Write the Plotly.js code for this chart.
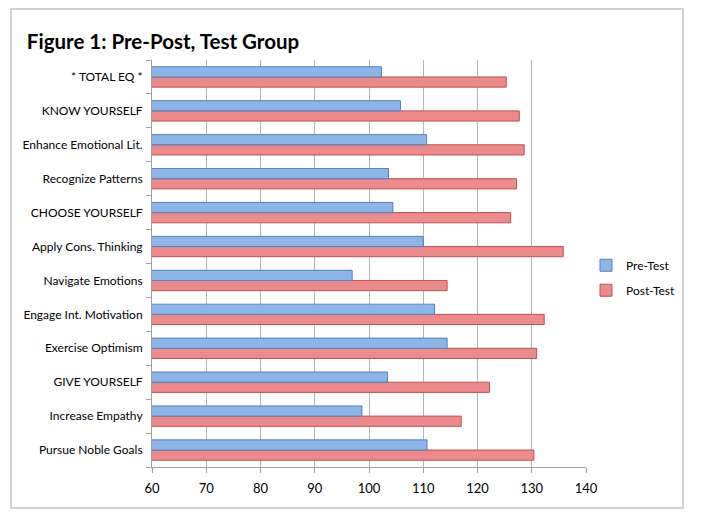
<!DOCTYPE html>
<html>
<head>
<meta charset="utf-8">
<script src="https://cdn.plot.ly/plotly-3.0.1.min.js"></script>
<style>
html,body{margin:0;padding:0;background:#fff;}
#chart{width:707px;height:522px;}
</style>
</head>
<body>
<div id="chart"></div>
<script>
// Categories listed top to bottom as in the figure
const categories = [
  "* TOTAL EQ *",
  "KNOW YOURSELF",
  "Enhance Emotional Lit.",
  "Recognize Patterns",
  "CHOOSE YOURSELF",
  "Apply Cons. Thinking",
  "Navigate Emotions",
  "Engage Int. Motivation",
  "Exercise Optimism",
  "GIVE YOURSELF",
  "Increase Empathy",
  "Pursue Noble Goals"
];
const preTest  = [102.3, 105.8, 110.6, 103.6, 104.4, 110.0, 96.9, 112.1, 114.4, 103.4, 98.7, 110.7];
const postTest = [125.3, 127.7, 128.6, 127.2, 126.1, 135.8, 114.4, 132.3, 130.9, 122.2, 117.0, 130.4];
const xTicks = [60, 70, 80, 90, 100, 110, 120, 130, 140];

const font = "Lato, 'Open Sans', sans-serif";

const traces = [
  {
    type: "bar", orientation: "h", name: "Post-Test",
    y: categories, x: postTest, legendgroup: "post", legendrank: 2,
    marker: {color: "#EC8B8B", line: {color: "#C0504D", width: 1}},
    hoverinfo: "x+y"
  },
  {
    type: "bar", orientation: "h", name: "Pre-Test",
    y: categories, x: preTest, legendgroup: "pre", legendrank: 1,
    marker: {color: "#8DB5E8", line: {color: "#4F81BD", width: 1}},
    hoverinfo: "x+y"
  }
];

const layout = {
  width: 707, height: 522,
  margin: {l: 152, r: 121, t: 60, b: 55, autoexpand: false},
  paper_bgcolor: "#fff", plot_bgcolor: "#fff",
  font: {family: font, size: 12, color: "#000"},
  title: {
    text: "<b>Figure 1: Pre-Post, Test Group</b>",
    font: {family: font, size: 20.5, color: "#000"},
    xref: "container", yref: "container",
    x: 0.038, xanchor: "left", y: 0.92, yanchor: "middle"
  },
  barmode: "group", bargap: 0.4, bargroupgap: 0,
  xaxis: {
    range: [60, 140], tickvals: xTicks, ticktext: xTicks.map(String),
    showgrid: true, gridcolor: "#B4B4B4", gridwidth: 1,
    showline: true, linecolor: "#A0A0A0", linewidth: 1,
    ticks: "outside", ticklen: 5, tickcolor: "#A0A0A0",
    ticklabelstandoff: 4, zeroline: false, automargin: false,
    tickfont: {family: font, size: 13, color: "#000"}
  },
  yaxis: {
    type: "category", categoryorder: "array",
    categoryarray: categories.slice().reverse(),
    showline: true, linecolor: "#A0A0A0", linewidth: 1,
    ticks: "outside", ticklen: 5, tickcolor: "#A0A0A0", tickson: "boundaries",
    showgrid: false, ticklabelstandoff: 6, automargin: false,
    tickfont: {family: font, size: 12, color: "#000"}
  },
  showlegend: true,
  legend: {
    x: 1.0, xanchor: "left", y: 0.465, yanchor: "middle",
    traceorder: "grouped", tracegroupgap: 6,
    font: {family: font, size: 12, color: "#000"},
    bgcolor: "rgba(0,0,0,0)"
  },
  shapes: [{
    type: "rect", xref: "paper", yref: "paper",
    x0: -0.3249, x1: 1.2235, y0: -0.1007, y1: 1.1253,
    line: {color: "#C4C4C4", width: 1.5}, fillcolor: "rgba(0,0,0,0)", layer: "below"
  }]
};

Plotly.newPlot("chart", traces, layout, {displayModeBar: false, staticPlot: true});
</script>
</body>
</html>
